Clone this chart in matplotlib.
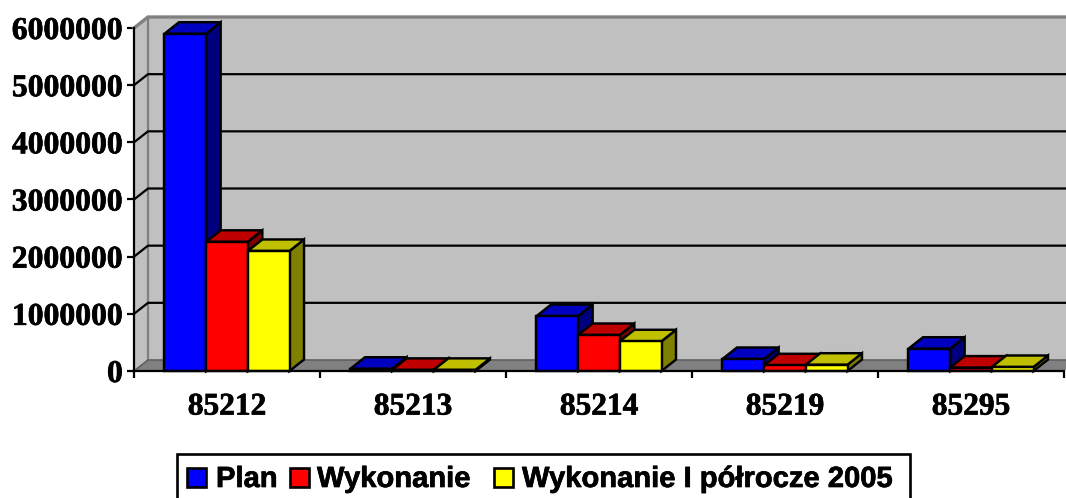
import matplotlib
matplotlib.use("Agg")
import matplotlib.pyplot as plt
import matplotlib.patheffects as pe
from matplotlib.patches import Polygon, Rectangle

categories = ["85212", "85213", "85214", "85219", "85295"]
plan = [5900000, 40000, 960000, 210000, 390000]
wykonanie = [2260000, 20000, 630000, 100000, 60000]
polrocze = [2100000, 20000, 520000, 110000, 70000]
series_names = ["Plan", "Wykonanie", "Wykonanie I półrocze 2005"]
y_ticks = [0, 1000000, 2000000, 3000000, 4000000, 5000000, 6000000]

W, H = 1066, 498
L, R, T, B = 134, 1064, 28, 371
fig = plt.figure(figsize=(W / 100, H / 100), dpi=100, facecolor="white")
ax = fig.add_axes([L / W, 1 - B / H, (R - L) / W, (B - T) / H])
ax.set_xlim(0, 5)
ax.set_ylim(0, 6000000)
ax.patch.set_visible(False)

DX = 14 * 5 / (R - L)
DY = 11 * 6000000 / (B - T)
BDX = 14.5 * 5 / (R - L)
BDY = 11.5 * 6000000 / (B - T)
LW = 1.75
GLW = 1.6
xmax = 5 + DX
bold = [pe.withStroke(linewidth=0.5, foreground="black")]


def poly(pts, fc, ec="none", lw=0, z=1):
    ax.add_patch(Polygon(pts, closed=True, facecolor=fc, edgecolor=ec, linewidth=lw,
                         zorder=z, clip_on=False, joinstyle="miter"))


# walls and floor
poly([(0, 0), (DX, DY), (DX, 6000000 + DY), (0, 6000000)], "#C0C0C0")
poly([(DX, DY), (xmax, DY), (xmax, 6000000 + DY), (DX, 6000000 + DY)], "#C0C0C0")
poly([(0, 0), (DX, DY), (xmax, DY), (5, 0)], "#808080")
ax.plot([0, DX, xmax], [6000000, 6000000 + DY, 6000000 + DY], color="#808080", lw=2.4, zorder=2, clip_on=False)
ax.plot([DX, DX], [DY, 6000000 + DY], color="#808080", lw=1.6, zorder=2, clip_on=False)
ax.plot([0, DX, xmax], [0, DY, DY], color="#606060", lw=1.2, zorder=2, clip_on=False)
for v in y_ticks[1:-1]:
    ax.plot([0, DX, xmax], [v, v + DY, v + DY], color="black", lw=GLW, zorder=2, clip_on=False)

# bars
colors = [("#0000FF", "#0000BF", "#00007F"),
          ("#FF0000", "#BF0000", "#7F0000"),
          ("#FFFF00", "#BFBF00", "#7F7F00")]
bw = 41.67 * 5 / (R - L)
z = 3
for c in range(len(categories)):
    for s, vals in enumerate([plan, wykonanie, polrocze]):
        x0 = c + 0.5 - 1.5 * bw + s * bw
        h = vals[c]
        front, top, side = colors[s]
        poly([(x0 + bw, 0), (x0 + bw + BDX, BDY), (x0 + bw + BDX, h + BDY), (x0 + bw, h)],
             side, "black", LW, z)
        poly([(x0, h), (x0 + BDX, h + BDY), (x0 + bw + BDX, h + BDY), (x0 + bw, h)],
             top, "black", LW, z)
        ax.bar(x0, h, width=bw, align="edge", color=front, edgecolor="black",
               linewidth=LW, zorder=z, clip_on=False,
               label=series_names[s] if c == 0 else None)
        z += 1

# axes
for sp in ("top", "right"):
    ax.spines[sp].set_visible(False)
for sp in ("left", "bottom"):
    ax.spines[sp].set_linewidth(GLW)
    ax.spines[sp].set_zorder(50)
ax.set_xticks(range(6))
ax.set_xticklabels([])
ax.set_xticks([i + 0.5 for i in range(5)], minor=True)
ax.set_xticklabels(categories, minor=True, fontfamily="Liberation Serif",
                   fontweight="bold", fontsize=22.6, path_effects=bold)
ax.tick_params(axis="x", which="major", length=5, width=GLW)
ax.tick_params(axis="x", which="minor", length=0, pad=15.5)
ax.set_yticks(y_ticks)
ax.set_yticklabels([str(v) for v in y_ticks], fontfamily="Liberation Serif",
                   fontweight="bold", fontsize=22.8, path_effects=bold)
ax.tick_params(axis="y", length=5, width=GLW, pad=3)


# legend
def fx(px):
    return px / W


def fy(py):
    return 1 - py / H


fig.add_artist(Rectangle((fx(177), fy(504)), 733 / W, 50 / H, transform=fig.transFigure,
                         facecolor="white", edgecolor="black", linewidth=1.9))
for name, (fc, _, _), sx, tx in zip(series_names, colors, [187, 290, 494], [216, 317, 522]):
    fig.add_artist(Rectangle((fx(sx), fy(487)), 19 / W, 19 / H, transform=fig.transFigure,
                             facecolor=fc, edgecolor="black", linewidth=1.9))
    fig.text(fx(tx), fy(487), name, fontfamily="Liberation Sans", fontweight="bold",
             fontsize=21, va="baseline", ha="left", color="black", path_effects=bold)

fig.savefig("out.png", dpi=100, facecolor="white")
